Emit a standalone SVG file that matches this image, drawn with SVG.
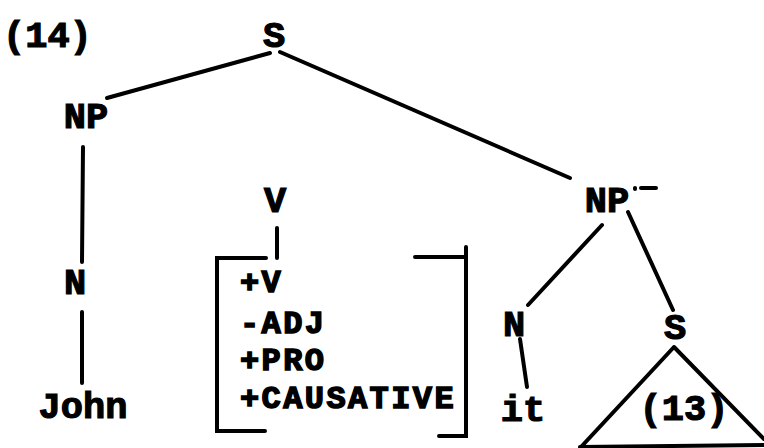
<svg xmlns="http://www.w3.org/2000/svg" width="764" height="448" viewBox="0 0 764 448">
<style>
text{font-family:"Liberation Mono","Courier New",monospace;font-weight:bold;font-size:37px;fill:#000;stroke:#000;stroke-width:1.2}
.f{font-size:32px;letter-spacing:2.4px;stroke-width:1.5}
.m{text-anchor:middle}
.ln{stroke:#000;stroke-width:4;fill:none;stroke-linecap:round;stroke-linejoin:miter}
</style>
<rect width="764" height="448" fill="#fff"/>
<text x="3" y="47">(14)</text>
<g id="n-S"><text class="m" x="274" y="47">S</text></g>
<g id="n-NP1"><text class="m" x="86" y="128">NP</text></g>
<g id="n-N1"><text class="m" x="75" y="294">N</text></g>
<g id="n-John"><text class="m" x="83" y="418">John</text></g>
<g id="n-V"><text class="m" x="275" y="212">V</text></g>
<g id="n-features">
<text class="f" x="240" y="292">+V</text>
<text class="f" x="240" y="333">-ADJ</text>
<text class="f" x="240" y="370">+PRO</text>
<text class="f" x="240" y="408">+CAUSATIVE</text>
<path class="ln" d="M266,258 H217 V431 H265"/>
<path class="ln" d="M415,257 H466 M466,247 V436 H439"/>
</g>
<g id="n-NP2"><text class="m" x="607" y="212">NP</text>
<path class="ln" d="M635,188 l0,1" stroke-width="2.5"/>
<path class="ln" d="M641,188 H656" stroke-width="2.5"/></g>
<g id="n-N2"><text class="m" x="514" y="336">N</text></g>
<g id="n-it"><text class="m" x="523" y="421">it</text></g>
<g id="n-S2"><text class="m" x="675" y="339">S</text></g>
<g id="n-13"><text class="m" x="684" y="420">(13)</text></g>
<g id="connectors">
<path class="ln" d="M270,53 L107,98"/>
<path class="ln" d="M280,52 L570,178"/>
<path class="ln" d="M83,147 L82,262"/>
<path class="ln" d="M82,312 L82,383"/>
<path class="ln" d="M277,228 L277,258"/>
<path class="ln" d="M602,225 L528,305"/>
<path class="ln" d="M628,212 L673,310"/>
<path class="ln" d="M520,339 L527,387"/>
<path class="ln" d="M674,347 L580,448 M674,347 L764,439 M580,447 L764,445"/>
</g>
</svg>
